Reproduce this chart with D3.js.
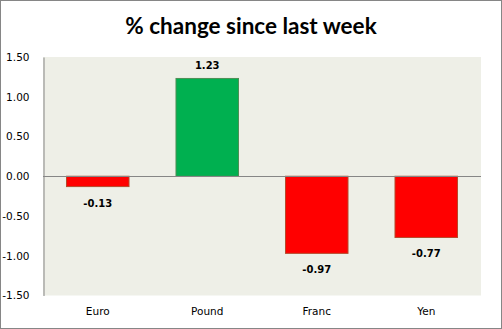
<!DOCTYPE html>
<html><head><meta charset="utf-8">
<script src="https://cdn.jsdelivr.net/npm/d3@7"></script>
<style>body{margin:0;background:#fff}svg{display:block}</style>
</head><body>
<script>
const title = "% change since last week";
const categories = ["Euro", "Pound", "Franc", "Yen"];
const values = [-0.13, 1.23, -0.97, -0.77];
const tickValues = [1.5, 1.0, 0.5, 0.0, -0.5, -1.0, -1.5];

const W = 502, H = 329;
const fmt = d => d3.format(".2f")(d).replace("\u2212", "-");
const svg = d3.select("body").append("svg").attr("width", W).attr("height", H);

svg.append("rect").attr("x", 0.5).attr("y", 0.5).attr("width", W - 1).attr("height", H - 1)
  .attr("fill", "#fff").attr("stroke", "#868686");

const plot = {left: 43, right: 481, top: 57, bottom: 295.5};

const x = d3.scaleBand().domain(categories).range([plot.left, plot.right])
  .paddingInner(0.42).paddingOuter(0.21);
const y = d3.scaleLinear().domain([-1.5, 1.5]).range([plot.bottom, plot.top]);

svg.append("rect").attr("x", plot.left).attr("y", plot.top)
  .attr("width", plot.right - plot.left).attr("height", plot.bottom - plot.top)
  .attr("fill", "#EEEFE7");

svg.append("text").attr("x", 251).attr("y", 34).attr("text-anchor", "middle")
  .attr("font-family", "Lato, 'Open Sans', sans-serif").attr("font-weight", "bold")
  .attr("font-size", 22.5).attr("fill", "#000").text(title);

// bars
svg.selectAll("rect.bar").data(values).join("rect").attr("class", "bar")
  .attr("x", (d, i) => x(categories[i]) + 0.5)
  .attr("width", x.bandwidth() - 1)
  .attr("y", d => y(Math.max(0, d)))
  .attr("height", d => Math.abs(y(d) - y(0)))
  .attr("fill", d => d >= 0 ? "#00B050" : "#FF0000")
  .attr("stroke", d => d >= 0 ? "#4E8F55" : "#B54A2C").attr("stroke-width", 1);

// zero line
svg.append("line").attr("x1", plot.left).attr("x2", plot.right)
  .attr("y1", Math.round(y(0)) + 0.5).attr("y2", Math.round(y(0)) + 0.5)
  .attr("stroke", "#868686");

// y axis
const yAxis = d3.axisLeft(y).tickValues(tickValues).tickSize(0).tickPadding(14)
  .tickFormat(fmt);
const gy = svg.append("g").attr("transform", `translate(${plot.left + 0.5},0)`).call(yAxis);
gy.select(".domain").attr("stroke", "#868686");
gy.selectAll("text").attr("font-family", "'DejaVu Sans', Verdana, sans-serif")
  .attr("font-size", 10.5).attr("fill", "#000");

// x axis labels
const xAxis = d3.axisBottom(x).tickSize(0).tickPadding(12);
const gx = svg.append("g").attr("transform", `translate(0,${plot.bottom})`).call(xAxis);
gx.select(".domain").remove();
gx.selectAll("text").attr("font-family", "'DejaVu Sans', Verdana, sans-serif")
  .attr("font-size", 10.5).attr("fill", "#000");

// value labels
svg.selectAll("text.val").data(values).join("text").attr("class", "val")
  .attr("x", (d, i) => x(categories[i]) + x.bandwidth() / 2)
  .attr("y", d => d >= 0 ? y(d) - 9 : y(d) + 20)
  .attr("text-anchor", "middle")
  .attr("font-family", "'DejaVu Sans', Verdana, sans-serif").attr("font-weight", "bold")
  .attr("font-size", 10).attr("fill", "#000")
  .text(fmt);
</script>
</body></html>
